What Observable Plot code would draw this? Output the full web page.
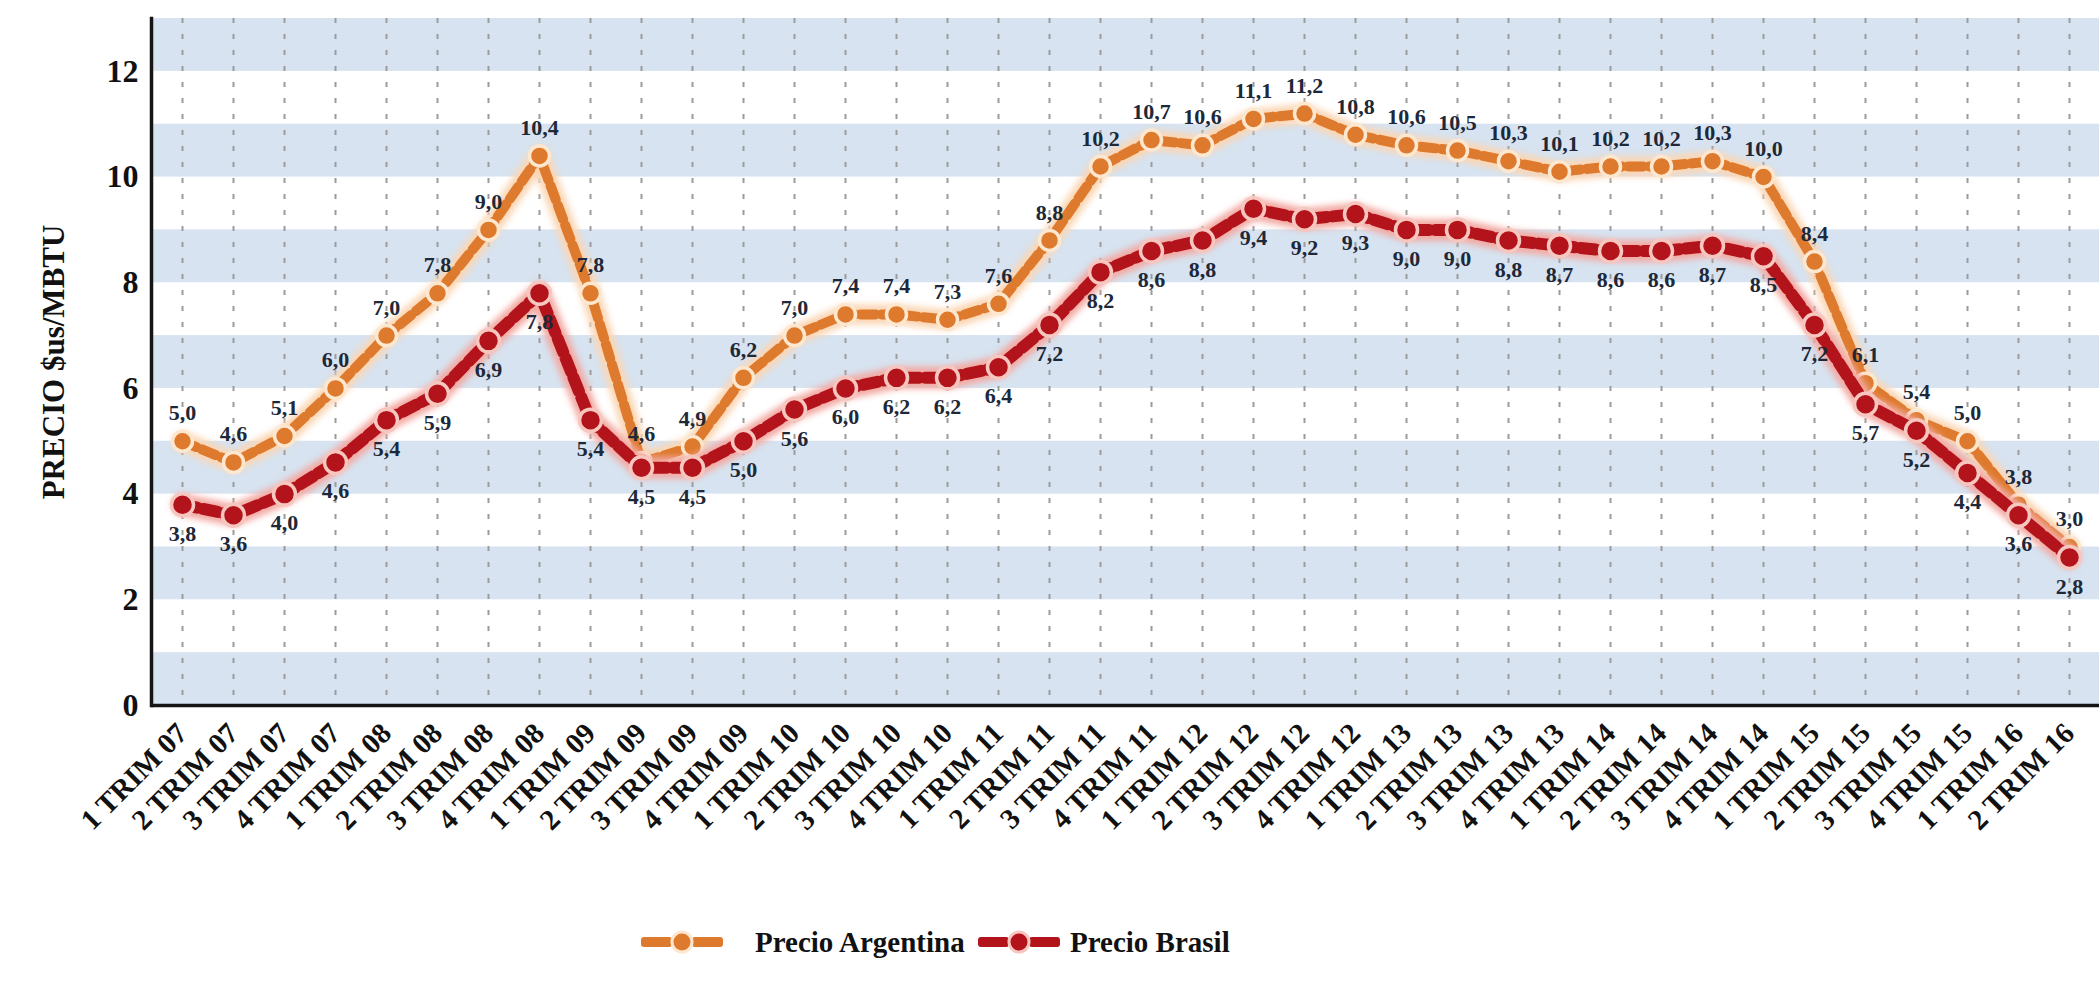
<!DOCTYPE html>
<html lang="es">
<head>
<meta charset="utf-8">
<script src="https://cdn.jsdelivr.net/npm/d3@7"></script>
<script src="https://cdn.jsdelivr.net/npm/@observablehq/plot@0.6"></script>
<style>
  html, body { margin: 0; padding: 0; background: #ffffff; }
  #chart svg { display: block; }
  .glow { filter: blur(3px); }
  #legend {
    position: relative;
    height: 114px;
    font-family: "Liberation Serif", "DejaVu Serif", serif;
    font-weight: bold;
    font-size: 29px;
    color: #111;
  }
  #legend .item { position: absolute; top: 42px; display: flex; align-items: center; height: 40px; }
  #legend svg { display: block; }
</style>
</head>
<body>
<div id="chart"></div>
<div id="legend"></div>
<script>
// Quarterly gas price, $us/MBTU
const quarters = [
  "1 TRIM 07", "2 TRIM 07", "3 TRIM 07", "4 TRIM 07",
  "1 TRIM 08", "2 TRIM 08", "3 TRIM 08", "4 TRIM 08",
  "1 TRIM 09", "2 TRIM 09", "3 TRIM 09", "4 TRIM 09",
  "1 TRIM 10", "2 TRIM 10", "3 TRIM 10", "4 TRIM 10",
  "1 TRIM 11", "2 TRIM 11", "3 TRIM 11", "4 TRIM 11",
  "1 TRIM 12", "2 TRIM 12", "3 TRIM 12", "4 TRIM 12",
  "1 TRIM 13", "2 TRIM 13", "3 TRIM 13", "4 TRIM 13",
  "1 TRIM 14", "2 TRIM 14", "3 TRIM 14", "4 TRIM 14",
  "1 TRIM 15", "2 TRIM 15", "3 TRIM 15", "4 TRIM 15",
  "1 TRIM 16", "2 TRIM 16"
];
const precioArgentina = [
  5.0, 4.6, 5.1, 6.0, 7.0, 7.8, 9.0, 10.4, 7.8, 4.6, 4.9, 6.2,
  7.0, 7.4, 7.4, 7.3, 7.6, 8.8, 10.2, 10.7, 10.6, 11.1, 11.2, 10.8,
  10.6, 10.5, 10.3, 10.1, 10.2, 10.2, 10.3, 10.0, 8.4, 6.1, 5.4, 5.0,
  3.8, 3.0
];
const precioBrasil = [
  3.8, 3.6, 4.0, 4.6, 5.4, 5.9, 6.9, 7.8, 5.4, 4.5, 4.5, 5.0,
  5.6, 6.0, 6.2, 6.2, 6.4, 7.2, 8.2, 8.6, 8.8, 9.4, 9.2, 9.3,
  9.0, 9.0, 8.8, 8.7, 8.6, 8.6, 8.7, 8.5, 7.2, 5.7, 5.2, 4.4,
  3.6, 2.8
];
const yTicks = [0, 2, 4, 6, 8, 10, 12];
const bandStarts = [0, 2, 4, 6, 8, 10, 12];   // shaded horizontal stripes, one unit tall
const seriesNames = ["Precio Argentina", "Precio Brasil"];

const colArg = "#de7a2d", haloArg = "#fbd6b4", ringArg = "#fde7cf";
const colBra = "#b3141c", haloBra = "#f3a9a2", ringBra = "#f7c6bf";
const serif = "'Liberation Serif', 'DejaVu Serif', serif";

const rows = quarters.map((q, i) => ({q, arg: precioArgentina[i], bra: precioBrasil[i]}));
const fmt = v => v.toFixed(1).replace(".", ",");

const chart = Plot.plot({
  width: 2099,
  height: 880,
  marginLeft: 151,
  marginRight: 0,
  marginTop: 18,
  marginBottom: 175,
  style: {fontFamily: serif, fontWeight: "bold", background: "#ffffff", color: "#111"},
  x: {type: "point", domain: quarters, padding: 0.46, label: null},
  y: {domain: [0, 13], label: null},
  marks: [
    Plot.rect(bandStarts, {y1: d => d, y2: d => d + 1, fill: "#d7e3f0"}),
    Plot.ruleX(quarters, {x: d => d, stroke: "#9c9c9c", strokeWidth: 2, strokeDasharray: "5 11"}),
    Plot.axisX({tickRotate: -45, tickSize: 0, tickPadding: 23, fontSize: 29, label: null}),
    Plot.axisY({ticks: yTicks, tickSize: 0, tickPadding: 13, fontSize: 32, label: null}),
    Plot.axisY({ticks: [], label: "PRECIO $us/MBTU", labelAnchor: "center", labelArrow: "none", labelOffset: 110, fontSize: 31}),
    Plot.ruleY([0], {stroke: "#151515", strokeWidth: 3.5}),
    Plot.frame({anchor: "left", stroke: "#151515", strokeWidth: 3.5}),

    // Argentina series
    Plot.line(rows, {x: "q", y: "arg", stroke: haloArg, strokeWidth: 20, className: "glow"}),
    Plot.line(rows, {x: "q", y: "arg", stroke: colArg, strokeWidth: 10, strokeDasharray: "15 6"}),
    Plot.dot(rows, {x: "q", y: "arg", r: 10, fill: colArg, stroke: ringArg, strokeWidth: 3.5}),

    // Brasil series
    Plot.line(rows, {x: "q", y: "bra", stroke: haloBra, strokeWidth: 22, className: "glow"}),
    Plot.line(rows, {x: "q", y: "bra", stroke: colBra, strokeWidth: 12, strokeDasharray: "15 6"}),
    Plot.dot(rows, {x: "q", y: "bra", r: 11, fill: colBra, stroke: ringBra, strokeWidth: 3.5}),

    // value labels
    Plot.text(rows, {x: "q", y: "arg", text: d => fmt(d.arg), dy: -28, fontSize: 22, fontWeight: "bold", fill: "#1d2838"}),
    Plot.text(rows, {x: "q", y: "bra", text: d => fmt(d.bra), dy: 29, fontSize: 22, fontWeight: "bold", fill: "#1d2838"})
  ]
});
document.getElementById("chart").append(chart);

// Legend below the chart
function swatch(color, ring) {
  const ns = "http://www.w3.org/2000/svg";
  const s = document.createElementNS(ns, "svg");
  s.setAttribute("width", 86);
  s.setAttribute("height", 30);
  s.innerHTML =
    `<rect x="2" y="10" width="31" height="10" rx="3" fill="${color}"/>` +
    `<rect x="53" y="10" width="31" height="10" rx="3" fill="${color}"/>` +
    `<circle cx="43" cy="15" r="10" fill="${color}" stroke="${ring}" stroke-width="3"/>`;
  return s;
}
const legend = document.getElementById("legend");
const legendLeft = [639, 976];
const legendGap = [30, 8];
seriesNames.forEach((name, i) => {
  const item = document.createElement("div");
  item.className = "item";
  item.style.left = legendLeft[i] + "px";
  const sw = i === 0 ? swatch(colArg, ringArg) : swatch(colBra, ringBra);
  sw.style.marginRight = legendGap[i] + "px";
  item.append(sw);
  const t = document.createElement("span");
  t.textContent = name;
  item.append(t);
  legend.append(item);
});
</script>
</body>
</html>
